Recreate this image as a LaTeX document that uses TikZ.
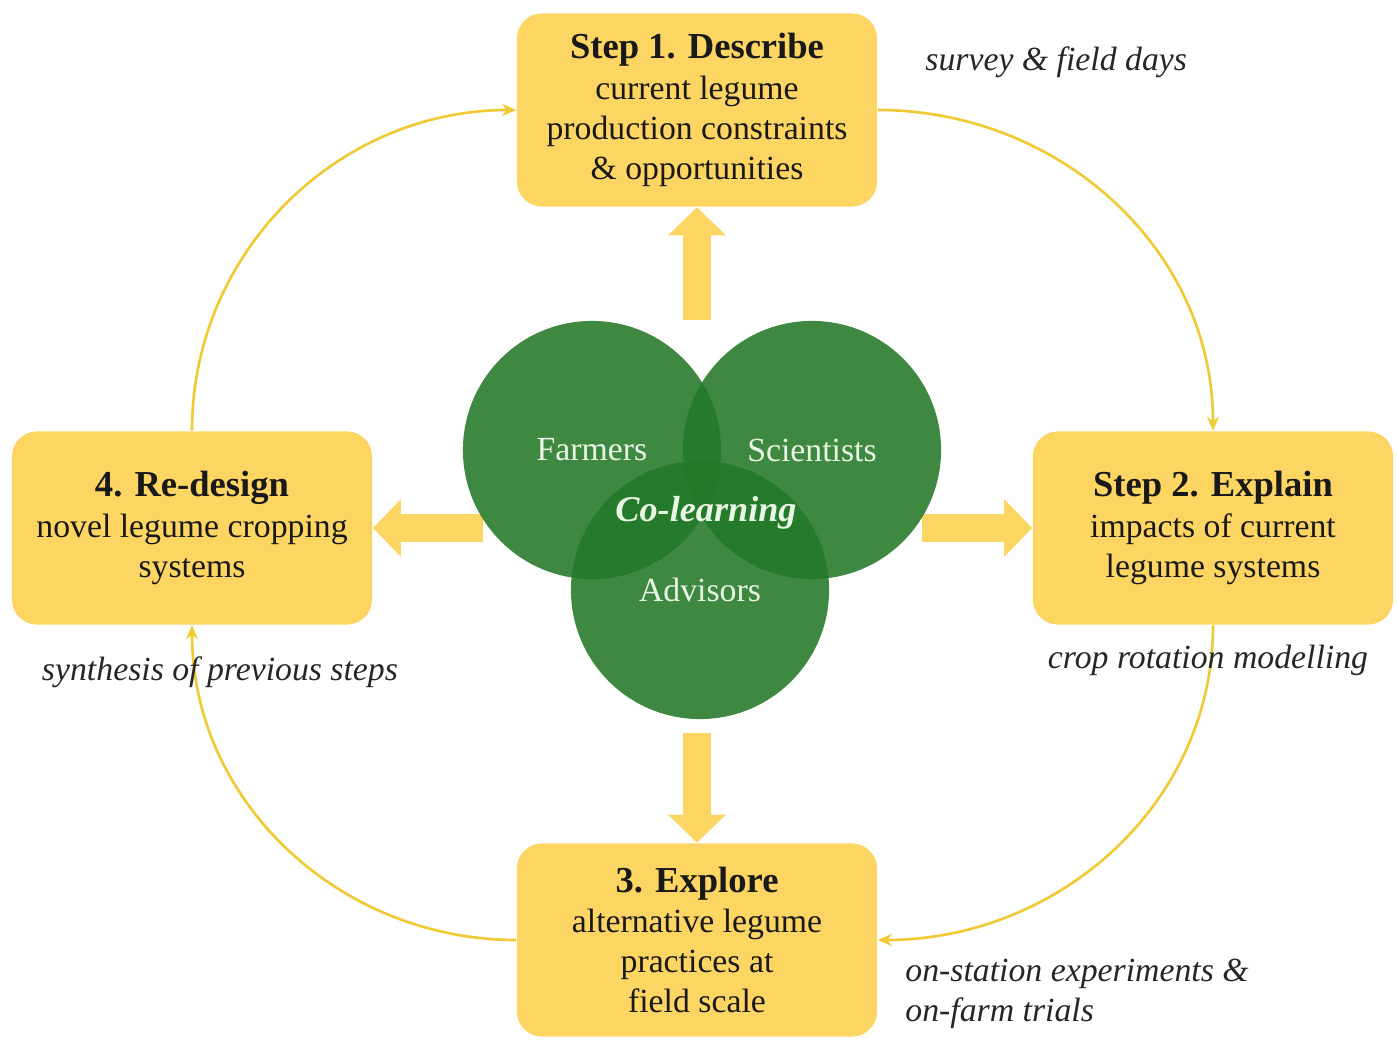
\documentclass[tikz,border=0pt]{standalone}
\usepackage{fontspec}
\setmainfont{Liberation Serif}
\usetikzlibrary{arrows.meta}

\definecolor{stepyellow}{RGB}{253,213,99}
\definecolor{cycleyellow}{RGB}{240,202,52}
\definecolor{venngreen}{RGB}{35,120,40}
\definecolor{labelgreen}{RGB}{234,246,228}

\begin{document}
\begin{tikzpicture}[x=0.01cm, y=-0.01cm,
    every node/.style={font=\fontsize{9.6}{11.4}\selectfont},
    stepbox/.style={fill=stepyellow, rounded corners=0.25cm, minimum width=3.6cm,
        minimum height=1.93cm, align=center, inner sep=0pt, text=black!90},
    steptitle/.style={font=\fontsize{10.4}{11.4}\selectfont\bfseries},
    cyclearrow/.style={draw=cycleyellow, line width=0.75pt, -{Stealth[length=0.14cm,width=0.12cm]}},
    fatarrow/.style={stepyellow, line width=0.28cm, -{Triangle[width=0.56cm,length=0.28cm]}},
    actor/.style={circle, fill=venngreen, fill opacity=0.88, text opacity=1,
        minimum size=2.58cm, text=labelgreen},
    sidenote/.style={font=\fontsize{9.6}{11.4}\selectfont\itshape, text=black!85}]

    \useasboundingbox (0,0) rectangle (1397,1040);

    % The four steps
    \node[stepbox] (describe) at (697,110)
        {{\fontsize{10.4}{11.4}\selectfont\bfseries Step 1. Describe}\\current legume\\production constraints\\\& opportunities};
    \node[stepbox] (explain) at (1213,528)
        {{\fontsize{10.4}{11.4}\selectfont\bfseries Step 2. Explain}\\impacts of current\\legume systems};
    \node[stepbox] (explore) at (697,940)
        {{\fontsize{10.4}{11.4}\selectfont\bfseries 3. Explore}\\alternative legume\\practices at\\field scale};
    \node[stepbox] (redesign) at (192,528)
        {{\fontsize{10.4}{11.4}\selectfont\bfseries 4. Re-design}\\novel legume cropping\\systems};

    % Cycle between the steps
    \draw[cyclearrow] (describe.east) to[out=0, in=90] (explain.north);
    \draw[cyclearrow] (explain.south) to[out=-90, in=0] (explore.east);
    \draw[cyclearrow] (explore.west) to[out=180, in=-90] (redesign.south);
    \draw[cyclearrow] (redesign.north) to[out=90, in=180] (describe.west);

    % Methods used at each step
    \node[sidenote, anchor=west] (surveylbl) at (913,62) {survey \& field days};
    \node[sidenote] (modellbl) at (1208,660) {crop rotation modelling};
    \node[sidenote, anchor=west, align=left] (triallbl) at (893,994)
        {on-station experiments \&\\on-farm trials};
    \node[sidenote] (synthlbl) at (220,672) {synthesis of previous steps};

    % Co-learning feeds every step
    \coordinate (uptail) at (697,320);
    \coordinate (downtail) at (697,733);
    \coordinate (lefttail) at (483,528);
    \coordinate (righttail) at (922,528);
    \draw[fatarrow] (uptail) -- (describe.south);
    \draw[fatarrow] (downtail) -- (explore.north);
    \draw[fatarrow] (lefttail) -- (redesign.east);
    \draw[fatarrow] (righttail) -- (explain.west);

    % Venn of the three groups
    \node[actor] (farmers) at (592,450) {Farmers};
    \node[actor] (scientists) at (812,450) {Scientists};
    \node[actor] (advisors) at (700,590) {Advisors};
    \node[font=\fontsize{10.3}{11.4}\selectfont\bfseries\itshape, text=labelgreen]
        (colearn) at (706,513) {Co-learning};

\end{tikzpicture}
\end{document}
